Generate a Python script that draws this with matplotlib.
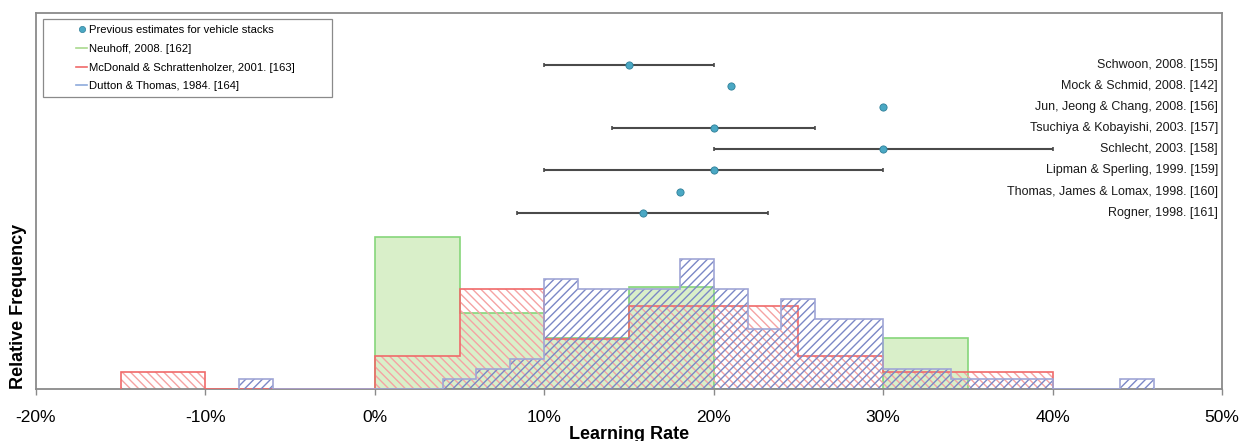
import matplotlib
matplotlib.use('Agg')
import matplotlib.pyplot as plt
from matplotlib.lines import Line2D
from matplotlib.patches import Rectangle
import numpy as np

plt.rcParams['font.family'] = ['Liberation Sans', 'DejaVu Sans']
plt.rcParams['axes.unicode_minus'] = False
plt.rcParams['hatch.linewidth'] = 1.0

# learning rate histograms (counts per bin, bin edges in %)
neuhoff_edges = [0, 5, 10, 15, 20, 25, 30, 35]
neuhoff_counts = [6, 3, 2, 4, 0, 0, 2]

mcdonald_edges = [-15, -10, -5, 0, 5, 10, 15, 20, 25, 30, 35, 40]
mcdonald_counts = [1, 0, 0, 2, 6, 3, 5, 5, 2, 1, 1]

dutton_edges = list(range(-8, 47, 2))
dutton_counts = [1, 0, 0, 0, 0, 0, 1, 2, 3, 11, 10, 10, 10, 13, 10, 6, 9, 7, 7,
                 2, 2, 1, 1, 1, 0, 0, 1]

# previous estimates for vehicle stacks (%), None where no range was given
studies = ['Schwoon, 2008. [155]', 'Mock & Schmid, 2008. [142]',
           'Jun, Jeong & Chang, 2008. [156]', 'Tsuchiya & Kobayishi, 2003. [157]',
           'Schlecht, 2003. [158]', 'Lipman & Sperling, 1999. [159]',
           'Thomas, James & Lomax, 1998. [160]', 'Rogner, 1998. [161]']
estimate = [15, 21, 30, 20, 30, 20, 18, 15.8]
low = [10, None, None, 14, 20, 10, None, 8.4]
high = [20, None, None, 26, 40, 30, None, 23.2]

xticks = [-20, -10, 0, 10, 20, 30, 40, 50]
xticklabels = ['-20%', '-10%', '0%', '10%', '20%', '30%', '40%', '50%']

fig = plt.figure(figsize=(12.43, 4.41), dpi=100)
ax = fig.add_axes([0.02896, 0.1179, 0.9541, 0.8526])

def centers(edges):
    e = np.asarray(edges, dtype=float)
    return (e[:-1] + e[1:]) / 2

# Neuhoff: solid light green
ax.hist(centers(neuhoff_edges), bins=neuhoff_edges, weights=neuhoff_counts,
        density=True, histtype='stepfilled', facecolor='#d9efc9',
        edgecolor='#86d67a', linewidth=1.2, zorder=1)

# McDonald & Schrattenholzer: red hatch
ax.hist(centers(mcdonald_edges), bins=mcdonald_edges, weights=mcdonald_counts,
        density=True, histtype='stepfilled', facecolor='none',
        edgecolor='#f5a3a3', linewidth=0, hatch='\\\\\\\\', zorder=2)
ax.hist(centers(mcdonald_edges), bins=mcdonald_edges, weights=mcdonald_counts,
        density=True, histtype='step', color='#f06a6a', linewidth=1.2, zorder=3)

# Dutton & Thomas: blue hatch
ax.hist(centers(dutton_edges), bins=dutton_edges, weights=dutton_counts,
        density=True, histtype='stepfilled', facecolor='none',
        edgecolor='#7b88c6', linewidth=0, hatch='////', zorder=4)
ax.hist(centers(dutton_edges), bins=dutton_edges, weights=dutton_counts,
        density=True, histtype='step', color='#a0a6d6', linewidth=1.2, zorder=5)

ax.set_xlim(-20, 50)
ax.set_ylim(0, 0.1742)
ax.set_xticks(xticks)
ax.set_xticklabels(xticklabels)
ax.set_yticks([])
ax.tick_params(axis='x', length=4, width=1, color='#8a8a8a', labelsize=12.5, pad=11)
for s in ax.spines.values():
    s.set_color('#8a8a8a')
    s.set_linewidth(1.3)

ax.set_xlabel('Learning Rate', fontsize=13, fontweight='bold')
ax.xaxis.set_label_coords(0.5, -0.134)
ax.xaxis.label.set_va('baseline')
fig.text(18.5 / 1243, 52 / 441, 'Relative Frequency', rotation=90,
         fontsize=13, fontweight='bold', ha='center', va='bottom')

# estimates on a second y scale, one row per study
ax2 = ax.twinx()
ax2.set_ylim(-7.36, 10.46)
ax2.set_yticks([])
for s in ax2.spines.values():
    s.set_visible(False)
rows = np.arange(len(studies), 0, -1)
for y, c, lo, hi, name in zip(rows, estimate, low, high, studies):
    if lo is not None:
        ax2.errorbar(c, y, xerr=[[c - lo], [hi - c]], fmt='none',
                     ecolor='#4a4a4a', elinewidth=1.5, capsize=1.2, capthick=1.2,
                     zorder=6)
    ax2.text(0.9965, y, name, transform=ax2.get_yaxis_transform(),
             ha='right', va='center', fontsize=9, color='#1a1a1a')
ax2.plot(estimate, rows, linestyle='none', marker='o', markersize=5.2,
         markerfacecolor='#4aa8c4', markeredgecolor='#2f7f98',
         markeredgewidth=0.6, zorder=7)

# legend in a plain gray box
ax.add_patch(Rectangle((0.0059, 0.7766), 0.2437, 0.2074, transform=ax.transAxes,
                       facecolor='white', edgecolor='#8a8a8a', linewidth=0.9,
                       zorder=8))
handles = [
    Line2D([], [], linestyle='none', marker='o', markersize=4.5,
           markerfacecolor='#4aa8c4', markeredgecolor='#2f7f98', markeredgewidth=0.5),
    Line2D([], [], color='#a9d98e', linewidth=1.2),
    Line2D([], [], color='#f06a6a', linewidth=1.2),
    Line2D([], [], color='#8eaadb', linewidth=1.2),
]
labels = ['Previous estimates for vehicle stacks', 'Neuhoff, 2008. [162]',
          'McDonald & Schrattenholzer, 2001. [163]', 'Dutton & Thomas, 1984. [164]']
leg = ax.legend(handles, labels, loc='upper left',
                bbox_to_anchor=((76 - 36) / 1186, (389 - 25) / 376),
                frameon=False, fontsize=8.1, borderpad=0, borderaxespad=0,
                handlelength=1.0, handletextpad=0.15, labelspacing=0.78)
leg.set_zorder(9)

fig.savefig('out.png', dpi=100)
